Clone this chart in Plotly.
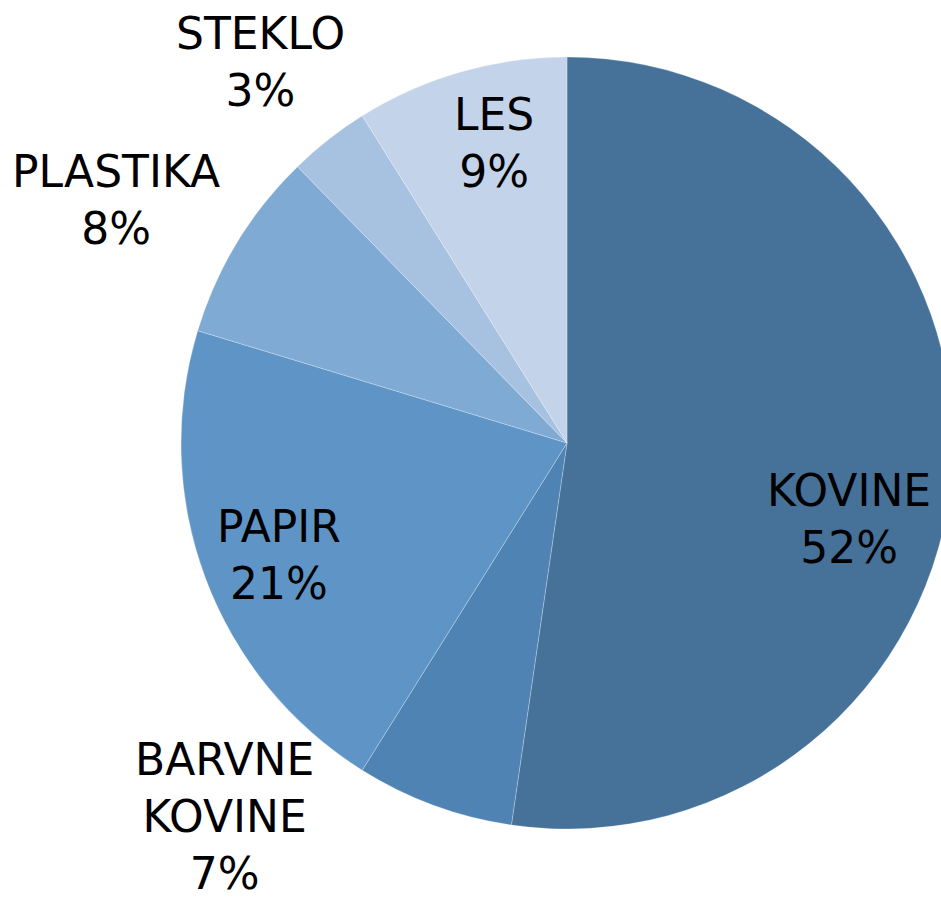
import plotly.graph_objects as go

categories = ["KOVINE", "BARVNE<br>KOVINE", "PAPIR", "PLASTIKA", "STEKLO", "LES"]
values = [52.3, 6.6, 20.8, 8.0, 3.4, 8.9]
colors = ["#46729a", "#4f83b3", "#5f95c6", "#7faad4", "#a7c1e0", "#c3d4ea"]

W, H = 980, 903
cx, cy, r = 567, 443, 386

fig = go.Figure(go.Pie(
    labels=categories,
    values=values,
    sort=False,
    direction="clockwise",
    rotation=0,
    textinfo="none",
    hoverinfo="label+percent",
    marker=dict(colors=colors, line=dict(color="rgba(255,255,255,0.25)", width=1)),
    domain=dict(x=[(cx - r) / W, (cx + r) / W], y=[1 - (cy + r) / H, 1 - (cy - r) / H]),
    showlegend=False,
))

# label centres in pixels
label_pos = [(849, 519), (224, 816), (279, 555), (116, 200), (260, 62), (494, 143)]
total = sum(values)
for cat, v, (px, py) in zip(categories, values, label_pos):
    fig.add_annotation(
        x=px / W, y=1 - py / H, xref="paper", yref="paper",
        text=f"{cat}<br>{round(v / total * 100)}%",
        showarrow=False, xanchor="center", yanchor="middle",
        font=dict(family="DejaVu Sans", size=44, color="#000000"),
    )

fig.update_layout(
    width=W, height=H,
    margin=dict(l=0, r=0, t=0, b=0),
    paper_bgcolor="white",
    plot_bgcolor="white",
)

fig.write_html(
    "out.html",
    config={"displayModeBar": False},
    post_script="document.body.style.margin='0';document.body.style.overflow='hidden';document.documentElement.style.overflow='hidden';",
)
